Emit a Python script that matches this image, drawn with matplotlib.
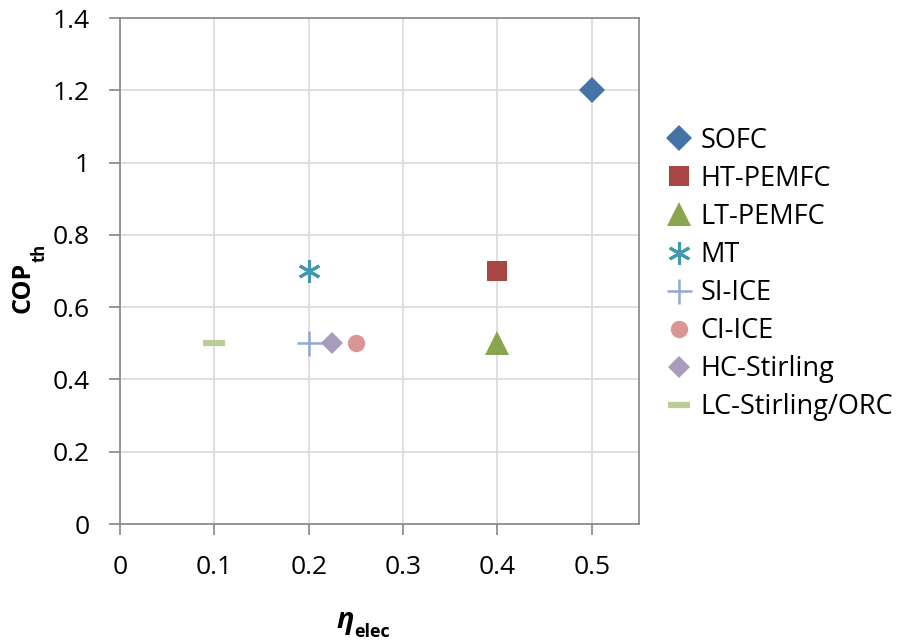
import numpy as np
import matplotlib
matplotlib.use("Agg")
import matplotlib.pyplot as plt

# data
names = ["SOFC", "HT-PEMFC", "LT-PEMFC", "MT", "SI-ICE", "CI-ICE",
         "HC-Stirling", "LC-Stirling/ORC"]
eta_elec = [0.5, 0.4, 0.4, 0.2, 0.2, 0.25, 0.225, 0.1]
cop_th = [1.2, 0.7, 0.5, 0.7, 0.5, 0.5, 0.5, 0.5]

colors = ["#4572A7", "#AA4643", "#89A54E", "#4198AF", "#93A9D1",
          "#D99694", "#A99BBD", "#B9CD96"]
markers = ["D", "s", "^", (6, 2, 0), "+", "o", "D", "_"]
msizes = [13, 14, 17, 16, 18, 12.5, 11, 16]
mews = [0, 0, 0, 2.2, 1.8, 0, 0, 4.5]

plt.rcParams['font.family'] = ['Open Sans', 'DejaVu Sans']

fig = plt.figure(figsize=(8.97, 6.43), dpi=100)
ax = fig.add_axes([120/897, 1-524/643, (639-120)/897, (524-18)/643])

for n, x, y, c, m, s, w in zip(names, eta_elec, cop_th, colors, markers, msizes, mews):
    if m in ("+", "_") or isinstance(m, tuple):
        ax.plot([x], [y], linestyle="none", marker=m, markersize=s,
                markeredgewidth=w, color=c, label=n)
    else:
        ax.plot([x], [y], linestyle="none", marker=m, markersize=s,
                markeredgewidth=0, markerfacecolor=c, color=c, label=n)

ax.set_xlim(0, 0.55)
ax.set_ylim(0, 1.4)
ax.set_xticks(np.arange(0, 0.51, 0.1))
ax.set_xticklabels(["0", "0.1", "0.2", "0.3", "0.4", "0.5"])
ax.set_yticks(np.arange(0, 1.41, 0.2))
ax.set_yticklabels(["0", "0.2", "0.4", "0.6", "0.8", "1", "1.2", "1.4"])
ax.grid(True, color="#D9D9D9", linewidth=1.2)
ax.set_axisbelow(True)
for s in ax.spines.values():
    s.set_color("#868686")
    s.set_linewidth(1.2)
ax.tick_params(direction="out", length=8, width=1.2, color="#868686",
               labelsize=19, pad=14, labelcolor="#000000")

fig.legend(loc="center left", bbox_to_anchor=(665/897, 1-274/643),
           frameon=False, fontsize=19.5, handlelength=1.0, handletextpad=0.3,
           labelspacing=0.37, borderpad=0, borderaxespad=0)

# axis titles
fig.text(345/897, 1-628/643, "\u03b7", fontsize=21, fontweight="bold",
         style="italic", ha="center", va="baseline")
fig.text(354/897, 1-637/643, "elec", fontsize=13, fontweight="bold",
         ha="left", va="baseline")
fig.text(23/897, 1-287/643, "COP", fontsize=18, fontweight="bold",
         rotation=90, ha="center", va="center")
fig.text(40/897, 1-262/643, "th", fontsize=12, fontweight="bold",
         rotation=90, ha="center", va="bottom")

fig.savefig("out.png", dpi=100)
